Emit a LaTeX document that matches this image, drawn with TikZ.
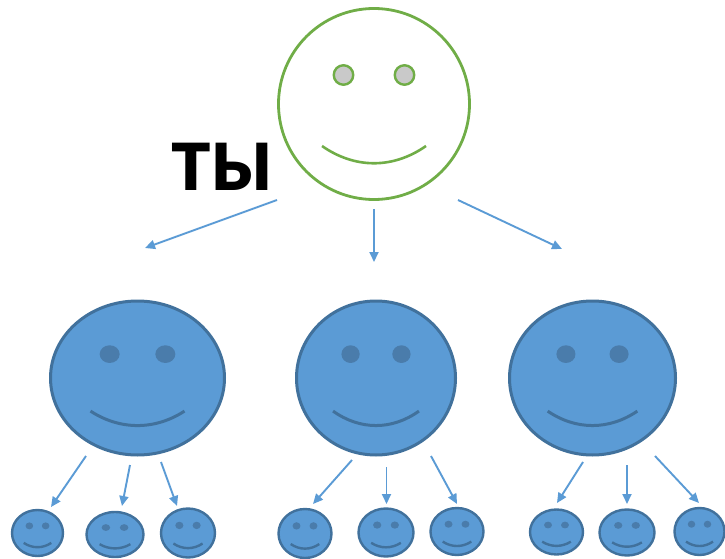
\documentclass[tikz,border=0pt]{standalone}
\usepackage{fontspec}
\setmainfont{Liberation Sans}
\newfontfamily\labelfont{Lato Black}
\usetikzlibrary{arrows.meta,shapes.geometric}
\definecolor{faceblue}{HTML}{5B9BD5}
\definecolor{edgeblue}{HTML}{41719C}
\definecolor{eyeblue}{HTML}{4A7CAB}
\definecolor{facegreen}{HTML}{70AD47}
\definecolor{eyegray}{HTML}{C9C9C9}
\tikzset{
	face/.style={ellipse,draw,inner sep=0pt},
	bluelook/.style={draw=edgeblue,fill=faceblue},
	bluearrow/.style={draw=faceblue,line width=1.9pt,-{Triangle[length=10pt,width=9pt]}}
}
% name, x, y, rx, ry, line width, eye size
\newcommand{\bluesmiley}[7]{
	\node[face,bluelook,line width=#6pt,minimum width=2*#4pt,minimum height=2*#5pt] (#1) at (#2,#3) {};
	\begin{scope}[shift={(#2,#3)},x=#4pt,y=-#5pt]
		\node[face,draw=none,fill=eyeblue,minimum width=#7*#4pt,minimum height=#7*#5pt] (#1l) at (-.32,-.31) {};
		\node[face,draw=none,fill=eyeblue,minimum width=#7*#4pt,minimum height=#7*#5pt] (#1r) at (.32,-.31) {};
		\draw[edgeblue,line width=#6pt] (-.54,.43) .. controls (-.2,.68) and (.2,.68) .. (.54,.43);
	\end{scope}
}
\begin{document}
\begin{tikzpicture}[x=1pt,y=-1pt]
	\useasboundingbox (0,0) rectangle (725,559);
	% top face
	\node[face,draw=facegreen,line width=2.8pt,minimum width=191pt,minimum height=191pt] (you) at (374,104) {};
	\node[face,draw=facegreen,fill=eyegray,line width=2.4pt,minimum width=19.5pt,minimum height=19.5pt] (youl) at (343.5,75) {};
	\node[face,draw=facegreen,fill=eyegray,line width=2.4pt,minimum width=19.5pt,minimum height=19.5pt] (your) at (404.5,75) {};
	\draw[facegreen,line width=2.6pt] (322,146) .. controls (355,169) and (393,169) .. (426,146);
	\node[font=\labelfont\fontsize{65}{65}\selectfont,inner sep=0pt] (label) at (222,167) {ТЫ};
	% middle row
	\bluesmiley{a}{137.5}{378}{87}{77}{3}{.23}
	\bluesmiley{b}{376}{378}{79.5}{77}{3}{.23}
	\bluesmiley{c}{592.5}{378}{83}{77}{3}{.23}
	% bottom row
	\bluesmiley{aa}{37.5}{533}{25.5}{23}{2.4}{.3}
	\bluesmiley{ab}{115}{534.5}{28.5}{22.5}{2.4}{.3}
	\bluesmiley{ac}{188}{533}{27}{24.5}{2.4}{.3}
	\bluesmiley{ba}{305}{533.5}{26.5}{24.5}{2.4}{.3}
	\bluesmiley{bb}{386}{532.5}{27.5}{24}{2.4}{.3}
	\bluesmiley{bc}{457}{531.5}{26.5}{23.5}{2.4}{.3}
	\bluesmiley{ca}{556.5}{532}{26.5}{22.5}{2.4}{.3}
	\bluesmiley{cb}{627}{532.5}{27.5}{23}{2.4}{.3}
	\bluesmiley{cc}{699.5}{531.5}{25}{23.5}{2.4}{.3}
	% arrows, they stop short of the faces
	\foreach \name/\xa/\ya/\xb/\yb in {
		you1/277/200/145/248, you2/374/209/374/262, you3/458/200/562/249,
		a1/86/456/51/507, a2/130/465/122/506, a3/161/462/177/506,
		b1/352/460/313/504, b2/386.5/467/386.5/504, b3/431/456/457/504,
		c1/583/462/557/503, c2/627/465/627/504, c3/655/456/699/503}{
		\coordinate (\name s) at (\xa,\ya);
		\coordinate (\name e) at (\xb,\yb);
		\draw[bluearrow] (\name s) -- (\name e);
	}
\end{tikzpicture}
\end{document}
